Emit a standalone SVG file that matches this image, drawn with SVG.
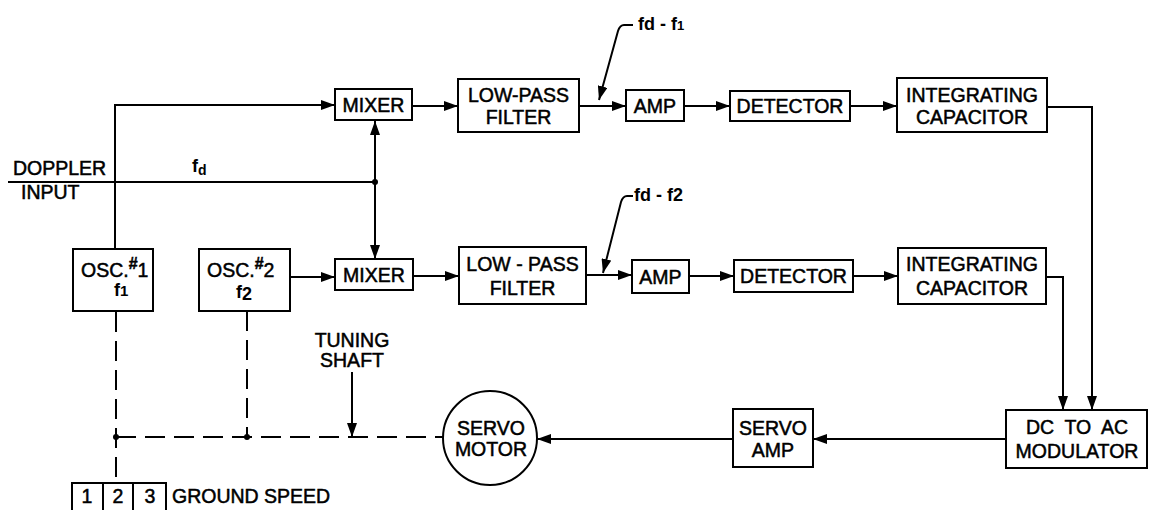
<svg xmlns="http://www.w3.org/2000/svg" width="1149" height="510" viewBox="0 0 1149 510">
<defs>
<style>
.box{fill:#fff;stroke:#000;stroke-width:2}
.ln{fill:none;stroke:#000;stroke-width:2}
.ds{fill:none;stroke:#000;stroke-width:2;stroke-dasharray:20 9}
.t{font-family:"Liberation Sans",Arial,sans-serif;font-size:19.5px;fill:#000;stroke:#000;stroke-width:0.5;text-anchor:middle}
.tl{font-family:"Liberation Sans",Arial,sans-serif;font-size:19.5px;fill:#000;stroke:#000;stroke-width:0.5}
.s{font-family:"Liberation Sans",Arial,sans-serif;font-size:18px;font-weight:bold;fill:#000}
</style>
<marker id="ah" markerWidth="14" markerHeight="10" refX="14" refY="5" orient="auto" markerUnits="userSpaceOnUse"><path d="M0,0 L14,5 L0,10 z" fill="#000"/></marker>
</defs>
<rect width="1149" height="510" fill="#fff"/>

<g id="connectors">
<path class="ln" d="M115,249 V105 H335" marker-end="url(#ah)"/>
<path class="ln" d="M8,182 H375"/>
<path class="ln" d="M375,182 V121" marker-end="url(#ah)"/>
<path class="ln" d="M375,182 V259" marker-end="url(#ah)"/>
<circle cx="375" cy="182" r="3" fill="#000"/>
<path class="ln" d="M412,106 H458" marker-end="url(#ah)"/>
<path class="ln" d="M579,106 H626" marker-end="url(#ah)"/>
<path class="ln" d="M684,106 H730" marker-end="url(#ah)"/>
<path class="ln" d="M850,106 H897" marker-end="url(#ah)"/>
<path class="ln" d="M1047,107 H1092 V410" marker-end="url(#ah)"/>
<path class="ln" d="M290,277 H335" marker-end="url(#ah)"/>
<path class="ln" d="M413,276 H459" marker-end="url(#ah)"/>
<path class="ln" d="M586,275 H632" marker-end="url(#ah)"/>
<path class="ln" d="M689,276 H734" marker-end="url(#ah)"/>
<path class="ln" d="M853,276 H898" marker-end="url(#ah)"/>
<path class="ln" d="M1046,277 H1063 V410" marker-end="url(#ah)"/>
<path class="ln" d="M1006,439 H813" marker-end="url(#ah)"/>
<path class="ln" d="M733,439 H537" marker-end="url(#ah)"/>
<path class="ds" d="M116,312 V483"/>
<path class="ds" d="M247,311 V437"/>
<path class="ds" d="M116,437 H443"/>
<circle cx="116" cy="437" r="3" fill="#000"/>
<circle cx="247" cy="437" r="3" fill="#000"/>
<path class="ln" d="M352,372 V437" marker-end="url(#ah)"/>
<path class="ln" d="M633,25 H624 Q620,25 618,31 L599,100" marker-end="url(#ah)"/>
<path class="ln" d="M633,196 H627 Q623,196 621,202 L603,273" marker-end="url(#ah)"/>
</g>

<g id="labels">
<text class="tl" x="13" y="175">DOPPLER</text>
<text class="tl" x="21" y="199">INPUT</text>
<text class="s" x="192" y="172">f<tspan font-size="14" dy="3">d</tspan></text>
<text class="s" x="638" y="30">fd - f<tspan font-size="13" dy="0">1</tspan></text>
<text class="s" x="634" y="201">fd - f2</text>
<text class="t" x="352" y="347">TUNING</text>
<text class="t" x="352" y="367">SHAFT</text>
<text class="tl" x="172" y="503">GROUND SPEED</text>
</g>

<g id="osc1">
<rect class="box" x="73" y="249" width="80" height="62"/>
<text class="tl" x="81" y="277">OSC.<tspan font-size="16" font-weight="bold" dy="-8">#</tspan><tspan dy="8">1</tspan></text>
<text class="s" x="114" y="296" font-size="19">f<tspan font-size="15" dy="0">1</tspan></text>
</g>
<g id="osc2">
<rect class="box" x="199" y="249" width="91" height="62"/>
<text class="tl" x="207" y="277">OSC.<tspan font-size="16" font-weight="bold" dy="-8">#</tspan><tspan dy="8">2</tspan></text>
<text class="s" x="236" y="298" font-size="19">f<tspan dy="2">2</tspan></text>
</g>
<g id="mixer1">
<rect class="box" x="335" y="89" width="77" height="31"/>
<text class="t" x="373.5" y="112">MIXER</text>
</g>
<g id="mixer2">
<rect class="box" x="335" y="259" width="78" height="31"/>
<text class="t" x="374" y="282">MIXER</text>
</g>
<g id="lpf1">
<rect class="box" x="458" y="79" width="121" height="53"/>
<text class="t" x="518.5" y="102">LOW-PASS</text>
<text class="t" x="518.5" y="124">FILTER</text>
</g>
<g id="lpf2">
<rect class="box" x="459" y="247" width="127" height="57"/>
<text class="t" x="522.5" y="271">LOW - PASS</text>
<text class="t" x="522.5" y="295">FILTER</text>
</g>
<g id="amp1">
<rect class="box" x="626" y="90" width="58" height="31"/>
<text class="t" x="655" y="113">AMP</text>
</g>
<g id="amp2">
<rect class="box" x="632" y="260" width="57" height="33"/>
<text class="t" x="660.5" y="284">AMP</text>
</g>
<g id="detector1">
<rect class="box" x="730" y="91" width="120" height="30"/>
<text class="t" x="790" y="113">DETECTOR</text>
</g>
<g id="detector2">
<rect class="box" x="734" y="260" width="119" height="32"/>
<text class="t" x="793.5" y="283">DETECTOR</text>
</g>
<g id="intcap1">
<rect class="box" x="897" y="78" width="150" height="54"/>
<text class="t" x="972" y="102">INTEGRATING</text>
<text class="t" x="972" y="124">CAPACITOR</text>
</g>
<g id="intcap2">
<rect class="box" x="898" y="248" width="148" height="56"/>
<text class="t" x="972" y="271">INTEGRATING</text>
<text class="t" x="972" y="295">CAPACITOR</text>
</g>
<g id="dc-ac-modulator">
<rect class="box" x="1006" y="410" width="141" height="58"/>
<text class="t" x="1077" y="434" xml:space="preserve">DC  TO  AC</text>
<text class="t" x="1077" y="458">MODULATOR</text>
</g>
<g id="servo-amp">
<rect class="box" x="733" y="409" width="80" height="58"/>
<text class="t" x="773" y="435">SERVO</text>
<text class="t" x="773" y="457">AMP</text>
</g>
<g id="servo-motor">
<circle class="box" cx="490" cy="438" r="47"/>
<text class="t" x="491" y="435">SERVO</text>
<text class="t" x="491" y="456">MOTOR</text>
</g>
<g id="ground-speed">
<path class="ln" d="M72,510 V483 H166 V510 M103,483 V510 M133,483 V510"/>
<text class="t" x="87" y="503">1</text>
<text class="t" x="118" y="503">2</text>
<text class="t" x="150" y="503">3</text>
</g>
</svg>
